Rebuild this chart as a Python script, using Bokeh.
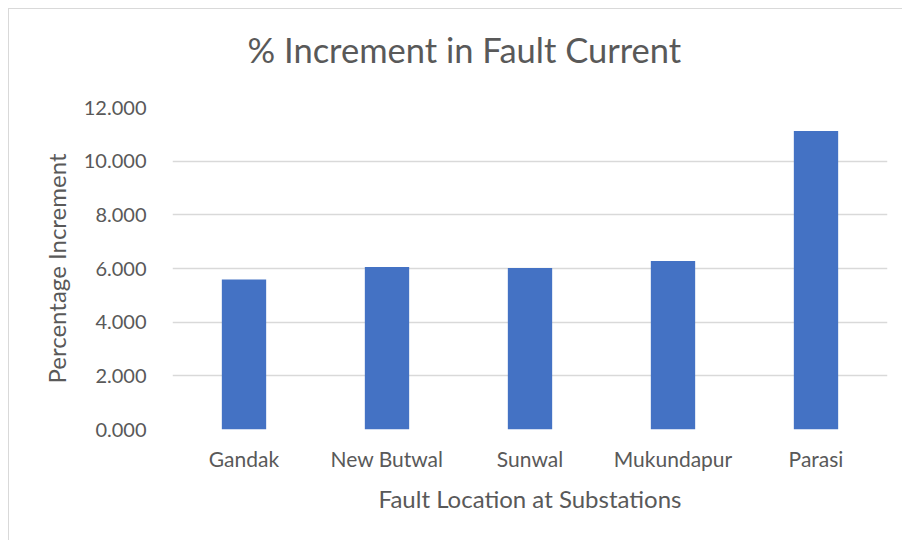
from bokeh.plotting import figure
from bokeh.models import ColumnDataSource, Range1d, FixedTicker, NumeralTickFormatter, Title
from bokeh.embed import file_html
from bokeh.resources import INLINE

categories = ["Gandak", "New Butwal", "Sunwal", "Mukundapur", "Parasi"]
values = [5.59, 6.06, 6.02, 6.28, 11.12]
y_ticks = [0, 2, 4, 6, 8, 10, 12]
title_text = "% Increment in Fault Current"

TEXT = "#595959"
GRID = "#d9d9d9"
FONT = "Lato"

src = ColumnDataSource(dict(cat=categories, val=values))

p = figure(x_range=categories, y_range=Range1d(0, 12),
           width=894, height=532, output_backend="svg", toolbar_location=None,
           min_border_left=164, min_border_right=15, min_border_top=99, min_border_bottom=111)
p.frame_width = 715
p.frame_height = 322

p.vbar(x="cat", top="val", width=0.31, source=src, fill_color="#4472C4", line_color=None)

# spacer between frame and the title (first added sits nearest the frame)
spacer = Title(text=".", text_font_size="1px", standoff=35, text_color="white")
p.add_layout(spacer, "above")
title = Title(text=title_text, align="left", offset=75, standoff=0, vertical_align="bottom",
              text_font=FONT, text_font_size="34.5px", text_font_style="normal", text_color=TEXT)
p.add_layout(title, "above")

p.border_fill_color = None
p.background_fill_color = None
p.outline_line_color = None
p.styles = {"box-shadow": "inset 1px 1px 0 #d9d9d9", "background": "white",
            "margin-left": "8px", "margin-top": "8px"}

p.xgrid.grid_line_color = None
p.ygrid.grid_line_color = GRID
p.ygrid.grid_line_width = 1.5
p.ygrid.ticker = FixedTicker(ticks=y_ticks)

p.yaxis.ticker = FixedTicker(ticks=y_ticks)
p.yaxis.formatter = NumeralTickFormatter(format="0.000")
for ax in (p.xaxis[0], p.yaxis[0]):
    ax.axis_line_color = None
    ax.major_tick_line_color = None
    ax.minor_tick_line_color = None
    ax.major_label_text_font = FONT
    ax.major_label_text_color = TEXT
    ax.axis_label_text_font = FONT
    ax.axis_label_text_color = TEXT
    ax.axis_label_text_font_size = "24px"
    ax.axis_label_text_font_style = "normal"

p.yaxis.major_label_text_font_size = "20px"
p.xaxis.major_label_text_font_size = "21px"

p.yaxis.axis_label = "Percentage Increment"
p.yaxis.major_label_standoff = 20
p.yaxis.axis_label_standoff = 10
p.xaxis.axis_label = "Fault Location at Substations"
p.xaxis.major_label_standoff = 10
p.xaxis.axis_label_standoff = 10

open("out.html", "w").write(file_html(p, INLINE))
